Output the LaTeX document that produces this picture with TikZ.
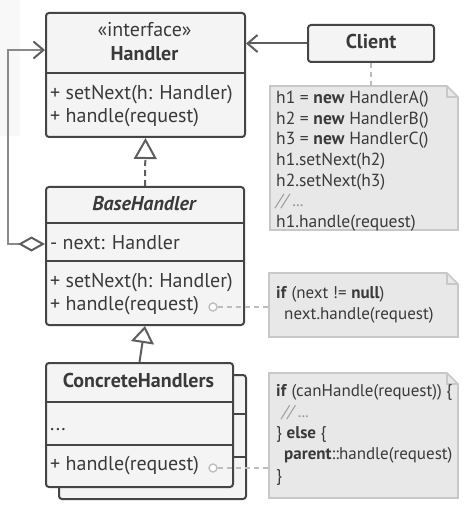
\documentclass[tikz,border=0pt]{standalone}
\usepackage{fontspec}
\setmainfont{PT Sans}
\usetikzlibrary{arrows.meta}
\definecolor{boxline}{HTML}{454545}
\definecolor{boxfill}{HTML}{F4F4F4}
\definecolor{txt}{HTML}{3A3A3A}
\definecolor{notefill}{HTML}{E8E8E8}
\definecolor{noteline}{HTML}{C8C8C8}
\definecolor{conn}{HTML}{5E5E5E}
\definecolor{conn2}{HTML}{8A8A8A}
\definecolor{dashc}{HTML}{BDBDBD}
\definecolor{cmt}{HTML}{9A9A9A}
\definecolor{bgpatch}{HTML}{F8F8F8}
\begin{document}
\begin{tikzpicture}[x=1pt,y=-1pt,
  box/.style={draw=boxline, fill=boxfill, line width=2pt, rounded corners=3pt, anchor=north west, inner sep=0pt},
  divider/.style={draw=boxline, line width=2pt},
  lbl/.style={text=txt, font=\fontsize{20}{23}\selectfont, inner sep=0pt, anchor=west, text height=12pt, text depth=2pt},
  ttl/.style={text=txt, font=\fontsize{20}{23}\selectfont\bfseries, inner sep=0pt, text height=12pt, text depth=2pt},
  notetxt/.style={text=txt, font=\fontsize{17.5}{20.6}\selectfont, inner sep=0pt, anchor=north west, align=left},
  notetxtb/.style={notetxt, font=\fontsize{17}{21.2}\selectfont},
  noteshape/.style={fill=notefill, draw=noteline, line width=1.6pt},
  notebox/.style={draw=none, inner sep=0pt, anchor=north west},
  connline/.style={draw=conn, line width=2pt},
  dashline/.style={draw=dashc, line width=1.6pt, dash pattern=on 5pt off 4pt},
  port/.style={circle, draw=dashc, fill=white, line width=1.4pt, minimum size=8pt, inner sep=0pt},
]
\useasboundingbox (0,0) rectangle (466,521);
\fill[bgpatch] (0,0) rectangle (20,136);

% ---------- Handler ----------
\node[box, minimum width=199pt, minimum height=124pt] (handler) at (45,12) {};
\draw[divider] (45,73) -- (244,73);
\node[lbl, anchor=center] (hster) at (144.5,32) {«interface»};
\node[ttl] (hname) at (144.5,56) {Handler};
\node[lbl] (hm1) at (50,95) {+ setNext(h: Handler)};
\node[lbl] (hm2) at (50,118) {+ handle(request)};
\coordinate (hin) at (45,50);

% ---------- BaseHandler ----------
\node[box, minimum width=198pt, minimum height=138pt] (base) at (45,186) {};
\draw[divider] (45,223) -- (243,223);
\draw[divider] (45,261) -- (243,261);
\node[ttl, font=\fontsize{20}{23}\selectfont\bfseries\itshape] (bname) at (144,206) {BaseHandler};
\node[lbl] (bnext) at (50,244) {- next: Handler};
\node[lbl] (bm1) at (50,282) {+ setNext(h: Handler)};
\node[lbl] (bm2) at (50,305) {+ handle(request)};
\node[port] (bport) at (213,307) {};

% ---------- ConcreteHandlers ----------
\node[box, minimum width=187pt, minimum height=124pt] (cback) at (58,374) {};
\draw[divider] (232,414) -- (245,414);
\draw[divider] (232,457) -- (245,457);
\node[box, minimum width=187pt, minimum height=124pt] (conc) at (45,362) {};
\draw[divider] (45,402) -- (232,402);
\draw[divider] (45,445) -- (232,445);
\node[ttl] (cname) at (138.5,382) {ConcreteHandlers};
\node[lbl] (cdots) at (50,425) {...};
\node[lbl] (cm1) at (50,465) {+ handle(request)};
\node[port] (cport) at (213,468) {};

% ---------- Client ----------
\node[box, minimum width=126pt, minimum height=37pt] (client) at (307,24) {};
\node[ttl] (cltxt) at (client.center) {Client};

% ---------- Notes ----------
\path[noteshape] (270,86) -- (447,86) -- (458,97) -- (458,230) -- (270,230) -- cycle;
\draw[draw=noteline, line width=1.6pt] (447,86) -- (447,97) -- (458,97);
\node[notebox, minimum width=188pt, minimum height=144pt] (note1) at (270,86) {};
\node[notetxt] (n1txt) at (276,91) {h1 = \textbf{new} HandlerA()\\
h2 = \textbf{new} HandlerB()\\
h3 = \textbf{new} HandlerC()\\
h1.setNext(h2)\\
h2.setNext(h3)\\
{\color{cmt}\itshape // ...}\\
h1.handle(request)};

\path[noteshape] (269,273) -- (447,273) -- (458,284) -- (458,337) -- (269,337) -- cycle;
\draw[draw=noteline, line width=1.6pt] (447,273) -- (447,284) -- (458,284);
\node[notebox, minimum width=189pt, minimum height=64pt] (note2) at (269,273) {};
\node[notetxtb] (n2txt) at (276,286) {\textbf{if} (next != \textbf{null})\\
\hspace*{8pt}next.handle(request)};

\path[noteshape] (269,373) -- (447,373) -- (458,384) -- (458,498) -- (269,498) -- cycle;
\draw[draw=noteline, line width=1.6pt] (447,373) -- (447,384) -- (458,384);
\node[notebox, minimum width=189pt, minimum height=125pt] (note3) at (269,373) {};
\node[notetxtb] (n3txt) at (276,384) {\textbf{if} (canHandle(request)) \{\\
\hspace*{6pt}{\color{cmt}\itshape // ...}\\
\} \textbf{else} \{\\
\hspace*{8pt}\textbf{parent}::handle(request)\\
\}};

% ---------- Connectors ----------
\draw[connline, -{Straight Barb[length=10pt, width=17pt, line width=2pt]}] (client.west) -- (client.west -| handler.east);
\draw[dashline] (client.south) -- (client.south |- note1.north);
\draw[connline, dash pattern=on 6pt off 4pt, -{Triangle[length=21pt, width=23pt, line width=2pt, fill=white]}] (base.north) -- (handler.south);
\draw[connline, -{Triangle[length=17pt, width=23pt, line width=2pt, fill=white]}] (conc.north) -- (base.south);
\draw[connline, draw=conn2, {Diamond[length=27pt, width=15pt, line width=2pt, fill=white, color=conn]}-{Straight Barb[length=10pt, width=17pt, line width=2pt, color=conn]}] (base.west |- bnext.west) -- ++(-37,0) |- (hin);
\draw[dashline] (bport.east) -- (bport.east -| note2.west);
\draw[dashline] (cport.east) -- (cport.east -| note3.west);
\end{tikzpicture}
\end{document}
